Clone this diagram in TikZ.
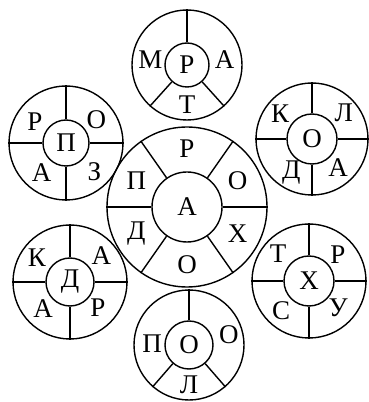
\documentclass[tikz,border=0pt]{standalone}
\usepackage{fontspec}
\setmainfont{Liberation Serif}
\usetikzlibrary{calc}

\tikzset{
  ring/.style={draw, circle, line width=1.4pt, inner sep=0pt, minimum size=#1},
  hub/.style={draw, circle, line width=1.4pt, inner sep=0pt, minimum size=#1, font=\fontsize{27}{27}\selectfont},
  letter/.style={font=\fontsize{27}{27}\selectfont, inner sep=0pt},
  spoke/.style={line width=1.4pt}
}

\begin{document}
\begin{tikzpicture}[x=1pt,y=1pt]
\useasboundingbox (0,0) rectangle (368,402);

% central wheel
\node[ring=160pt] (ringA) at (187,195) {};
\node[hub=70pt] (hubA) at (187,195) {А};
\foreach \a in {0,55,125,180,235,305}
  \draw[spoke] (hubA.\a) -- (ringA.\a);
\node[letter] (a1) at ($(hubA)+(90:58)$) {Р};
\node[letter] (a2) at ($(hubA)+(27.5:57)$) {О};
\node[letter] (a3) at ($(hubA)+(-27.5:57)$) {Х};
\node[letter] (a4) at ($(hubA)+(270:58)$) {О};
\node[letter] (a5) at ($(hubA)+(207.5:57)$) {Д};
\node[letter] (a6) at ($(hubA)+(152.5:57)$) {П};

% top wheel
\node[ring=110pt] (ringR) at (187,337) {};
\node[hub=44pt] (hubR) at (187,337) {Р};
\foreach \a in {90,228,312}
  \draw[spoke] (hubR.\a) -- (ringR.\a);
\node[letter] (r1) at ($(hubR)+(172:37)$) {М};
\node[letter] (r2) at ($(hubR)+(8:38)$) {А};
\node[letter] (r3) at ($(hubR)+(270:40)$) {Т};

% upper left wheel
\node[ring=114pt] (ringP) at (66,259) {};
\node[hub=46pt] (hubP) at (66,259) {П};
\foreach \a in {0,90,180,270}
  \draw[spoke] (hubP.\a) -- (ringP.\a);
\node[letter] (p1) at ($(hubP)+(145:38)$) {Р};
\node[letter] (p2) at ($(hubP)+(37:38)$) {О};
\node[letter] (p3) at ($(hubP)+(230:38)$) {А};
\node[letter] (p4) at ($(hubP)+(315:40)$) {З};

% upper right wheel
\node[ring=112pt] (ringO) at (312,263) {};
\node[hub=50pt] (hubO) at (312,263) {О};
\foreach \a in {0,90,180,270}
  \draw[spoke] (hubO.\a) -- (ringO.\a);
\node[letter] (o1) at ($(hubO)+(141:41)$) {К};
\node[letter] (o2) at ($(hubO)+(39:41)$) {Л};
\node[letter] (o3) at ($(hubO)+(238:39)$) {Д};
\node[letter] (o4) at ($(hubO)+(312:39)$) {А};

% lower left wheel
\node[ring=114pt] (ringD) at (70,120) {};
\node[hub=48pt] (hubD) at (70,120) {Д};
\foreach \a in {0,90,180,270}
  \draw[spoke] (hubD.\a) -- (ringD.\a);
\node[letter] (d1) at ($(hubD)+(144:41)$) {К};
\node[letter] (d2) at ($(hubD)+(40:41)$) {А};
\node[letter] (d3) at ($(hubD)+(225:38)$) {А};
\node[letter] (d4) at ($(hubD)+(317:38)$) {Р};

% lower right wheel
\node[ring=114pt] (ringX) at (309,121) {};
\node[hub=50pt] (hubX) at (309,121) {Х};
\foreach \a in {0,90,180,270}
  \draw[spoke] (hubX.\a) -- (ringX.\a);
\node[letter] (x1) at ($(hubX)+(139:41)$) {Т};
\node[letter] (x2) at ($(hubX)+(42:39)$) {Р};
\node[letter] (x3) at ($(hubX)+(227:41)$) {С};
\node[letter] (x4) at ($(hubX)+(317:40)$) {У};

% bottom wheel
\node[ring=110pt] (ringB) at (189,57) {};
\node[hub=48pt] (hubB) at (189,57) {О};
\foreach \a in {90,229,311}
  \draw[spoke] (hubB.\a) -- (ringB.\a);
\node[letter] (b1) at ($(hubB)+(178:37)$) {П};
\node[letter] (b2) at ($(hubB)+(14:41)$) {О};
\node[letter] (b3) at ($(hubB)+(270:40)$) {Л};
\end{tikzpicture}
\end{document}
